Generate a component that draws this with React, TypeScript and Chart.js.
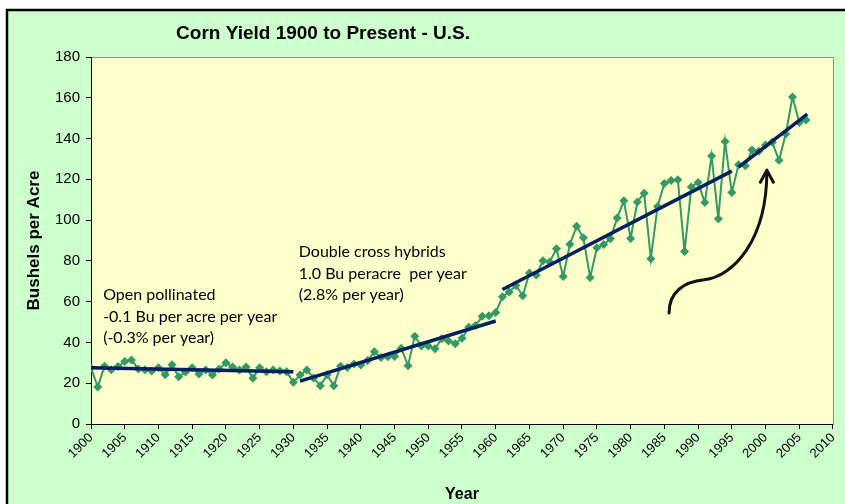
import React, { useEffect, useRef } from "react";
import { Chart, registerables } from "chart.js";
Chart.register(...registerables);

const startYear = 1900;
const yields = [
  27.6, 18.2, 28.3, 26.6, 28.2, 30.6, 31.4, 27.0, 26.6, 26.0,
  27.6, 24.1, 29.0, 23.2, 25.5, 27.6, 24.5, 26.5, 24.0, 27.0,
  30.0, 28.0, 26.5, 28.0, 22.5, 27.6, 25.6, 26.5, 26.0, 25.6,
  20.5, 24.0, 26.5, 22.6, 18.7, 24.1, 18.8, 28.3, 27.7, 29.4,
  28.9, 31.1, 35.4, 32.6, 33.0, 33.1, 37.2, 28.6, 43.0, 38.2,
  38.2, 36.9, 41.8, 40.7, 39.4, 42.0, 47.4, 48.3, 52.8, 53.1,
  54.7, 62.4, 64.7, 67.9, 62.9, 74.1, 73.1, 80.1, 79.5, 85.9,
  72.4, 88.1, 97.0, 91.3, 71.9, 86.4, 88.0, 90.8, 101.0, 109.5,
  91.0, 108.9, 113.2, 81.1, 106.7, 118.0, 119.4, 119.8, 84.6, 116.3,
  118.5, 108.6, 131.5, 100.7, 138.6, 113.5, 127.1, 126.7, 134.4, 133.8,
  136.9, 138.2, 129.3, 142.2, 160.4, 147.9, 149.1,
];
const years = yields.map((_, i) => startYear + i);

const trendOpenYears = [1900, 1930];
const trendOpenValues = [27.6, 25.6];
const trendDoubleYears = [1931, 1960];
const trendDoubleValues = [21.0, 50.5];
const trendSingleYears = [1961, 1995];
const trendSingleValues = [66.0, 124.0];
const trendRecentYears = [1996, 2006.2];
const trendRecentValues = [126.0, 152.0];

const xMin = 1900;
const xMax = 2010;
const xStep = 5;
const yMin = 0;
const yMax = 180;
const yStep = 20;

const titleText = "Corn Yield 1900 to Present - U.S.";
const xTitle = "Year";
const yTitle = "Bushels per Acre";
const noteOpen = ["Open pollinated", "-0.1 Bu per acre per year", "(-0.3% per year)"];
const noteDouble = ["Double cross hybrids", "1.0 Bu peracre  per year", "(2.8% per year)"];

const GREEN = "#339966";
const NAVY = "#002060";
const SANS = "'Liberation Sans', Arial, sans-serif";
const NOTE_FONT = "16px Lato, 'Open Sans', sans-serif";

function pts(xs: number[], ys: number[]) {
  return xs.map((x, i) => ({ x, y: ys[i] }));
}

const framePlugin = {
  id: "frame",
  beforeDraw(chart: any) {
    const { ctx, chartArea } = chart;
    ctx.save();
    ctx.fillStyle = "#ffffff";
    ctx.fillRect(0, 0, chart.width, chart.height);
    ctx.fillStyle = "#ccffcc";
    ctx.fillRect(8, 11, chart.width, chart.height);
    ctx.strokeStyle = "#000000";
    ctx.lineWidth = 2.5;
    ctx.strokeRect(7, 10, chart.width + 20, chart.height + 20);
    ctx.fillStyle = "#ffffcc";
    ctx.fillRect(chartArea.left, chartArea.top, chartArea.right - chartArea.left, chartArea.bottom - chartArea.top);
    ctx.strokeStyle = "#909090";
    ctx.lineWidth = 1;
    ctx.strokeRect(chartArea.left + 0.5, chartArea.top + 0.5, chartArea.right - chartArea.left, chartArea.bottom - chartArea.top);
    ctx.restore();
  },
  afterDraw(chart: any) {
    const { ctx } = chart;
    const xs = chart.scales.x;
    const ys = chart.scales.y;
    ctx.save();
    ctx.fillStyle = "#000000";
    ctx.font = `bold 19px ${SANS}`;
    ctx.textAlign = "center";
    ctx.textBaseline = "middle";
    ctx.fillText(titleText, 323, 34);

    ctx.font = NOTE_FONT;
    ctx.textAlign = "left";
    const ox = xs.getPixelForValue(1901.8);
    const oy = ys.getPixelForValue(63.3);
    noteOpen.forEach((t, i) => ctx.fillText(t, ox, oy + i * 21.5));
    const dx = xs.getPixelForValue(1930.8);
    const dy = ys.getPixelForValue(84.4);
    noteDouble.forEach((t, i) => ctx.fillText(t, dx, dy + i * 21.5));

    // curved arrow
    const P = (x: number, y: number) => [xs.getPixelForValue(x), ys.getPixelForValue(y)];
    const [sx, sy] = P(1985.7, 54.5);
    const [c1x, c1y] = P(1985.7, 64.8);
    const [c2x, c2y] = P(1987.9, 69.7);
    const [mx, my] = P(1990.9, 70.7);
    const [c3x, c3y] = P(1995.3, 72.6);
    const [c4x, c4y] = P(2000.2, 90.3);
    const [tx, ty] = P(2000.2, 124.0);
    ctx.strokeStyle = "#111111";
    ctx.lineWidth = 3;
    ctx.lineCap = "round";
    ctx.beginPath();
    ctx.moveTo(sx, sy);
    ctx.bezierCurveTo(c1x, c1y, c2x, c2y, mx, my);
    ctx.bezierCurveTo(c3x, c3y, c4x, c4y, tx, ty);
    ctx.stroke();
    ctx.lineWidth = 3;
    ctx.lineJoin = "round";
    ctx.beginPath();
    ctx.moveTo(tx - 6.5, ty + 11);
    ctx.lineTo(tx, ty - 1);
    ctx.lineTo(tx + 6.5, ty + 11);
    ctx.stroke();
    ctx.restore();
  },
};

export default function App() {
  const ref = useRef<HTMLCanvasElement | null>(null);
  useEffect(() => {
    document.body.style.margin = "0";
    document.body.style.overflow = "hidden";
    const canvas = ref.current!;
    const trendStyle = {
      borderColor: NAVY,
      backgroundColor: NAVY,
      borderWidth: 3.5,
      pointRadius: 0,
      showLine: true,
      fill: false,
      tension: 0,
    };
    const chart = new Chart(canvas, {
      type: "scatter",
      data: {
        datasets: [
          { ...trendStyle, data: pts(trendOpenYears, trendOpenValues) },
          { ...trendStyle, data: pts(trendDoubleYears, trendDoubleValues) },
          { ...trendStyle, data: pts(trendSingleYears, trendSingleValues) },
          { ...trendStyle, data: pts(trendRecentYears, trendRecentValues) },
          {
            data: pts(years, yields),
            showLine: true,
            borderColor: GREEN,
            backgroundColor: GREEN,
            borderWidth: 2,
            pointStyle: "rectRot",
            pointRadius: 4.5,
            pointBackgroundColor: GREEN,
            pointBorderColor: GREEN,
            pointBorderWidth: 0,
            tension: 0,
          },
        ],
      },
      options: {
        responsive: false,
        animation: false,
        devicePixelRatio: 1,
        layout: { padding: { top: 57, right: 11, left: 0, bottom: 0 } },
        plugins: {
          legend: { display: false },
          tooltip: { enabled: false },
          title: { display: false },
        },
        scales: {
          x: {
            type: "linear",
            position: "bottom",
            min: xMin,
            max: xMax,
            afterFit: (s: any) => {
              s.height = 80;
            },
            afterBuildTicks: (s: any) => {
              const t = [];
              for (let v = xMin; v <= xMax; v += xStep) t.push({ value: v });
              s.ticks = t;
            },
            ticks: {
              autoSkip: false,
              maxRotation: 45,
              minRotation: 45,
              color: "#000000",
              font: { family: SANS, size: 13 },
              padding: 1,
              callback: (v: any) => String(v),
            },
            grid: {
              display: true,
              drawOnChartArea: false,
              drawTicks: true,
              tickLength: 5,
              color: "#000000",
            },
            border: { display: true, color: "#000000", width: 1 },
            title: {
              display: true,
              text: xTitle,
              color: "#000000",
              font: { family: SANS, size: 16, weight: "bold" },
              padding: { top: 0, bottom: 0 },
            },
          },
          y: {
            min: yMin,
            max: yMax,
            afterFit: (s: any) => {
              s.width = 91;
            },
            ticks: {
              stepSize: yStep,
              color: "#000000",
              font: { family: SANS, size: 15 },
              padding: 6,
            },
            grid: {
              display: true,
              drawOnChartArea: false,
              drawTicks: true,
              tickLength: 5,
              color: "#000000",
            },
            border: { display: true, color: "#000000", width: 1 },
            title: {
              display: true,
              text: yTitle,
              color: "#000000",
              font: { family: SANS, size: 17, weight: "bold" },
              padding: { top: 24, bottom: 0 },
            },
          },
        },
      },
      plugins: [framePlugin],
    } as any);
    return () => chart.destroy();
  }, []);
  return (
    <div style={{ width: 845, height: 504 }}>
      <canvas ref={ref} width={845} height={504} style={{ display: "block" }} />
    </div>
  );
}
